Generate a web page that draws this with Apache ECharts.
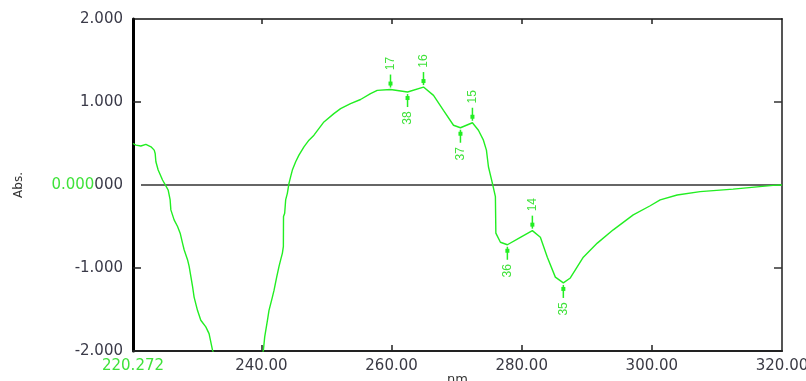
<!DOCTYPE html>
<html><head><meta charset="utf-8">
<script src="https://cdn.jsdelivr.net/npm/echarts@6/dist/echarts.min.js"></script>
<style>html,body{margin:0;padding:0;background:#fff}#c{width:806px;height:381px}</style>
</head><body><div id="c"></div>
<script>
// Spectrum (nm, Abs.)
const wavelength = [220.27, 220.72, 221.48, 222.25, 223.04, 223.53, 223.68, 223.79, 224.14, 224.81, 225.32, 225.67, 225.98, 226.09, 226.59, 227.12, 227.52, 227.88, 228.13, 228.65, 228.90, 229.16, 229.42, 229.66, 230.18, 230.69, 231.46, 231.96, 232.49, 234.0, 236.5, 238.5, 239.6, 240.31, 240.51, 240.93, 241.17, 241.69, 241.94, 242.35, 242.71, 242.97, 243.23, 243.38, 243.40, 243.58, 243.73, 243.99, 244.24, 244.50, 244.76, 245.27, 245.77, 246.54, 247.31, 248.08, 249.61, 251.14, 252.17, 253.70, 255.24, 256.77, 257.80, 259.84, 262.46, 264.91, 266.45, 267.98, 269.52, 270.59, 272.43, 273.35, 274.12, 274.58, 274.89, 275.50, 275.96, 276.03, 276.73, 277.80, 279.80, 281.64, 282.87, 283.94, 285.17, 286.40, 287.47, 289.47, 291.62, 294.07, 297.14, 299.75, 301.28, 303.89, 307.42, 312.49, 318.62, 320.0];
const absorbance = [0.50, 0.48, 0.47, 0.49, 0.46, 0.42, 0.38, 0.28, 0.18, 0.06, -0.01, -0.06, -0.18, -0.30, -0.42, -0.50, -0.58, -0.70, -0.78, -0.90, -0.98, -1.10, -1.22, -1.35, -1.51, -1.63, -1.71, -1.79, -1.99, -2.30, -2.55, -2.45, -2.20, -1.99, -1.83, -1.63, -1.51, -1.35, -1.27, -1.11, -0.98, -0.90, -0.82, -0.74, -0.38, -0.34, -0.18, -0.10, 0.02, 0.10, 0.18, 0.28, 0.36, 0.46, 0.54, 0.60, 0.76, 0.86, 0.92, 0.98, 1.03, 1.10, 1.14, 1.15, 1.12, 1.18, 1.08, 0.90, 0.72, 0.69, 0.75, 0.66, 0.54, 0.42, 0.22, 0.02, -0.14, -0.58, -0.69, -0.72, -0.63, -0.55, -0.63, -0.87, -1.11, -1.18, -1.12, -0.87, -0.70, -0.54, -0.36, -0.25, -0.18, -0.12, -0.08, -0.05, -0.004, 0.0];

// Peak / valley markers
const peakLabels = ['17', '16', '15', '14'];
const peakNm = [259.84, 264.91, 272.43, 281.64];
const peakAbs = [1.15, 1.18, 0.75, -0.55];
const valleyLabels = ['38', '37', '36', '35'];
const valleyNm = [262.46, 270.59, 277.80, 286.40];
const valleyAbs = [1.12, 0.69, -0.72, -1.18];

// Axes
const xMin = 220.272, xMax = 320;
const xTickValues = [240, 260, 280, 300];
const xLabelValues = [220.272, 240, 260, 280, 300, 320];
const yMin = -2, yMax = 2;
const yTickValues = [-1, 1];
const yLabelValues = [-2, -1, 0, 1, 2];
const zeroLineNm = [221.5, 320];

const GREEN = '#22ee22';
const TEXTGREEN = '#3fe23a';
const TICK = '#222';

const spectrum = wavelength.map((w, i) => [w, absorbance[i]]);
const markerLabels = peakLabels.concat(valleyLabels);
const markers = peakNm.map((w, i) => [w, peakAbs[i], -1])
  .concat(valleyNm.map((w, i) => [w, valleyAbs[i], 1]));

const chart = echarts.init(document.getElementById('c'));
chart.setOption({
  animation: false,
  backgroundColor: '#fff',
  grid: { left: 133, right: 24, top: 19, bottom: 30, outerBoundsMode: 'none', containLabel: false },
  xAxis: [{
    type: 'value', min: xMin, max: xMax, position: 'bottom',
    name: 'nm', nameLocation: 'middle', nameGap: 22, nameMoveOverlap: false,
    nameTextStyle: { color: '#333', fontFamily: 'DejaVu Sans', fontSize: 13, verticalAlign: 'top' },
    axisLine: { show: true, onZero: false, lineStyle: { color: '#222', width: 2 } },
    axisTick: { show: true, inside: true, length: 6, customValues: xTickValues, lineStyle: { color: TICK, width: 1.5 } },
    axisLabel: {
      customValues: xLabelValues, margin: 8, color: '#3a3a44',
      fontFamily: 'DejaVu Sans', fontSize: 15,
      formatter: v => Math.abs(v - xMin) < 1e-6 ? '{g|' + xMin.toFixed(3) + '}' : v.toFixed(2),
      rich: { g: { color: TEXTGREEN, fontFamily: 'DejaVu Sans', fontSize: 15 } }
    },
    splitLine: { show: false }
  }, {
    type: 'value', min: xMin, max: xMax, position: 'top',
    axisLine: { show: true, onZero: false, lineStyle: { color: '#111', width: 1.5 } },
    axisTick: { show: true, inside: true, length: 5, customValues: xTickValues, lineStyle: { color: TICK, width: 1.5 } },
    axisLabel: { show: false },
    splitLine: { show: false }
  }],
  yAxis: [{
    type: 'value', min: yMin, max: yMax, position: 'left',
    name: 'Abs.', nameLocation: 'middle', nameRotate: 90, nameGap: 108, nameMoveOverlap: false,
    nameTextStyle: { color: '#333', fontFamily: 'DejaVu Sans', fontSize: 12 },
    axisLine: { show: true, onZero: false, lineStyle: { color: '#000', width: 3 } },
    axisTick: { show: true, inside: true, length: 8, customValues: yTickValues, lineStyle: { color: TICK, width: 1.5 } },
    axisLabel: {
      customValues: yLabelValues, margin: 10, color: '#3a3a48',
      fontFamily: 'DejaVu Sans', fontSize: 15,
      formatter: v => v === 0 ? '{g|0.000}000' : v.toFixed(3),
      rich: { g: { color: TEXTGREEN, fontFamily: 'DejaVu Sans', fontSize: 15 } }
    },
    splitLine: { show: false }
  }, {
    type: 'value', min: yMin, max: yMax, position: 'right',
    axisLine: { show: true, onZero: false, lineStyle: { color: '#555', width: 2 } },
    axisTick: { show: true, inside: true, length: 8, customValues: yTickValues, lineStyle: { color: '#333', width: 1.5 } },
    axisLabel: { show: false },
    splitLine: { show: false }
  }],
  series: [{
    type: 'line', name: 'zero',
    data: zeroLineNm.map(w => [w, 0]),
    showSymbol: false, silent: true, z: 2,
    lineStyle: { color: '#333', width: 1.3 }
  }, {
    type: 'line', name: 'spectrum',
    data: spectrum, showSymbol: false, clip: true, z: 3,
    lineStyle: { color: GREEN, width: 1.4 }
  }, {
    type: 'custom', name: 'markers', z: 4,
    data: markers,
    renderItem: (params, api) => {
      const p = api.coord([api.value(0), api.value(1)]);
      const dir = api.value(2);
      return {
        type: 'group',
        children: [
          { type: 'line', shape: { x1: p[0], y1: p[1] + dir * 2, x2: p[0], y2: p[1] + dir * 15 },
            style: { stroke: GREEN, lineWidth: 1.5 } },
          { type: 'rect', shape: { x: p[0] - 2, y: p[1] + dir * 6 - 2, width: 4, height: 4 },
            style: { fill: GREEN } },
          { type: 'text', x: p[0], y: p[1] + dir * 26, rotation: Math.PI / 2,
            style: { text: markerLabels[params.dataIndex], fill: TEXTGREEN,
              font: '12px "Liberation Sans"', align: 'center', verticalAlign: 'middle' } }
        ]
      };
    }
  }]
});
</script></body></html>
